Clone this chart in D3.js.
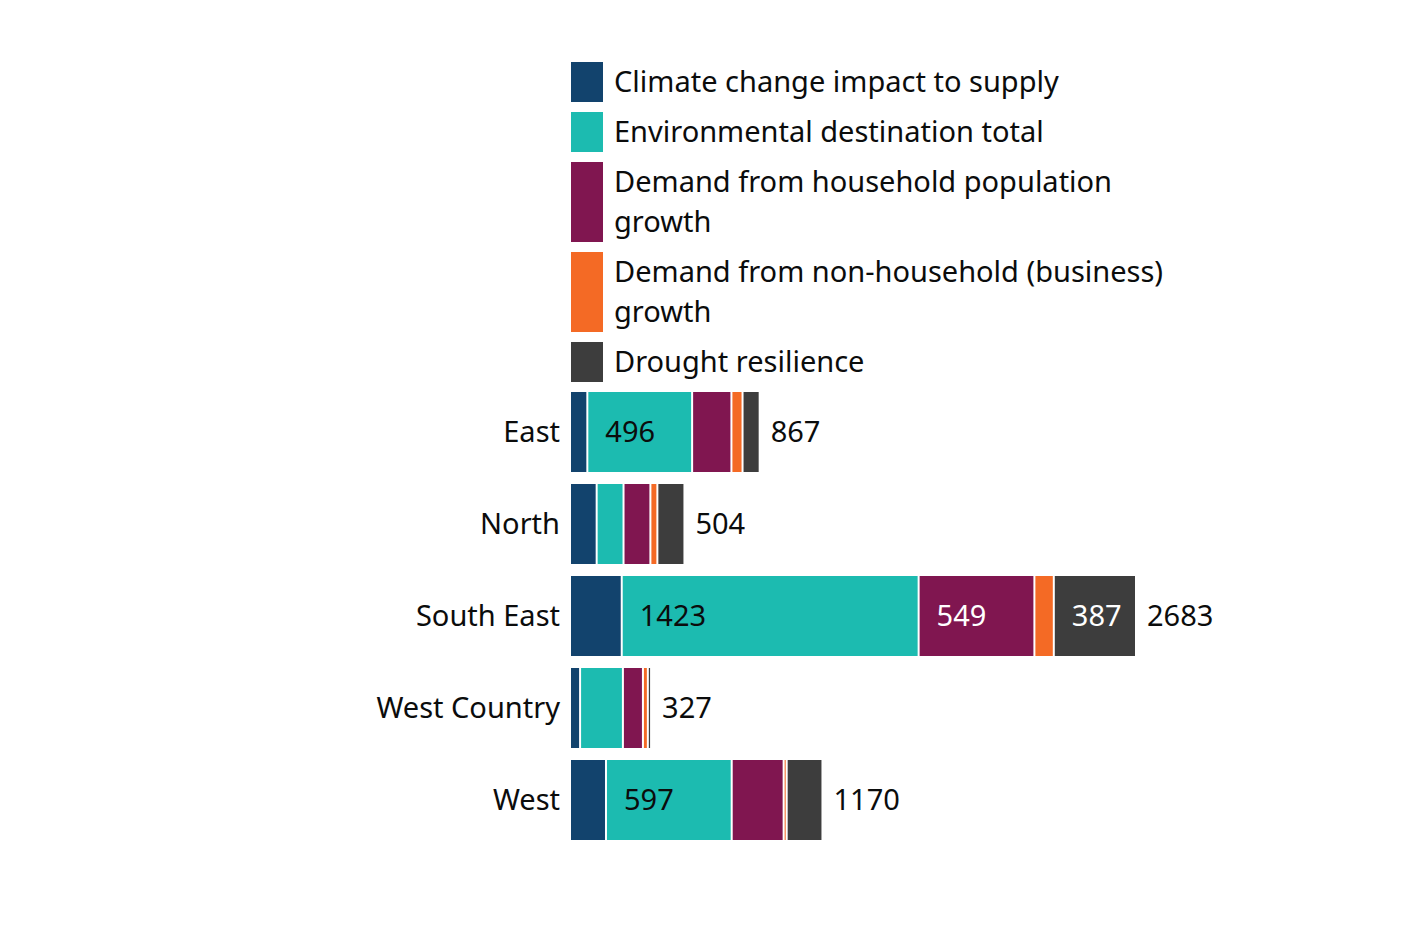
<!DOCTYPE html>
<html>
<head>
<meta charset="utf-8">
<script src="https://cdn.jsdelivr.net/npm/d3@7"></script>
<style>
  body { margin: 0; background: #fff; }
  text { font-family: "Noto Sans", sans-serif; fill: #0b0c0c; }
</style>
</head>
<body>
<script>
// regions, top to bottom
var regions = ["East", "North", "South East", "West Country", "West"];
var seriesNames = ["Climate change impact to supply", "Environmental destination total",
  "Demand from household population growth", "Demand from non-household (business) growth", "Drought resilience"];
var colours = ["#12436d", "#1cbbb0", "#801650", "#f46a25", "#3d3d3d"];
var labelColours = ["#ffffff", "#0b0c0c", "#ffffff", "#0b0c0c", "#ffffff"];

// one array per series, in region order
var climate = [74, 119, 240, 39, 164];
var environment = [496, 120, 1423, 197, 597];
var household = [180, 120, 549, 87, 241];
var business = [44, 24, 84, 14, 5];
var drought = [73, 121, 387, 6, 163];
var totals = [867, 504, 2683, 327, 1170];

var series = [climate, environment, household, business, drought];

function draw() {
  var svg = d3.select("body").append("svg").attr("width", 1422).attr("height", 930);
  var gap = 2, pad = 17, fs = 29;

  var x = d3.scaleLinear().domain([0, 2683]).range([0, 556]);
  var left = 571;
  var y = d3.scaleBand().domain(regions).range([392, 840]).paddingInner(12 / 92).paddingOuter(0);

  // legend
  var legend = svg.append("g");
  var ly = 62;
  seriesNames.forEach(function (name, i) {
    var words = name.split(" "), lines = [], cur = "";
    var probe = legend.append("text").style("font-size", fs + "px");
    words.forEach(function (w) {
      var t = cur ? cur + " " + w : w;
      probe.text(t);
      if (probe.node().getComputedTextLength() > 565 && cur) { lines.push(cur); cur = w; } else { cur = t; }
    });
    lines.push(cur);
    probe.remove();
    var h = lines.length * 40;
    legend.append("rect").attr("x", left).attr("y", ly).attr("width", 32).attr("height", h).attr("fill", colours[i]);
    lines.forEach(function (l, j) {
      legend.append("text").attr("x", 614).attr("y", ly + 20 + j * 40).attr("dy", "0.35em")
        .style("font-size", fs + "px").text(l);
    });
    ly += h + 10;
  });

  // category labels
  svg.append("g").selectAll("text").data(regions).enter().append("text")
    .attr("x", 560).attr("y", function (d) { return y(d) + y.bandwidth() / 2; })
    .attr("dy", "0.35em").attr("text-anchor", "end").style("font-size", fs + "px").text(function (d) { return d; });

  // stacked bars
  regions.forEach(function (r, ri) {
    var g = svg.append("g");
    var xs = left;
    series.forEach(function (s, si) {
      var v = s[ri];
      var w = x(v);
      g.append("rect").attr("x", xs).attr("y", y(r)).attr("width", w).attr("height", y.bandwidth()).attr("fill", colours[si]);
      var t = g.append("text").attr("x", xs + pad).attr("y", y(r) + y.bandwidth() / 2).attr("dy", "0.35em")
        .style("font-size", fs + "px").style("fill", labelColours[si]).text(v);
      if (t.node().getComputedTextLength() + pad + 6 > w) t.remove();
      xs += w + gap;
    });
    g.append("text").attr("x", xs - gap + 12).attr("y", y(r) + y.bandwidth() / 2).attr("dy", "0.35em")
      .style("font-size", fs + "px").text(totals[ri]);
  });
}
draw();
</script>
</body>
</html>
